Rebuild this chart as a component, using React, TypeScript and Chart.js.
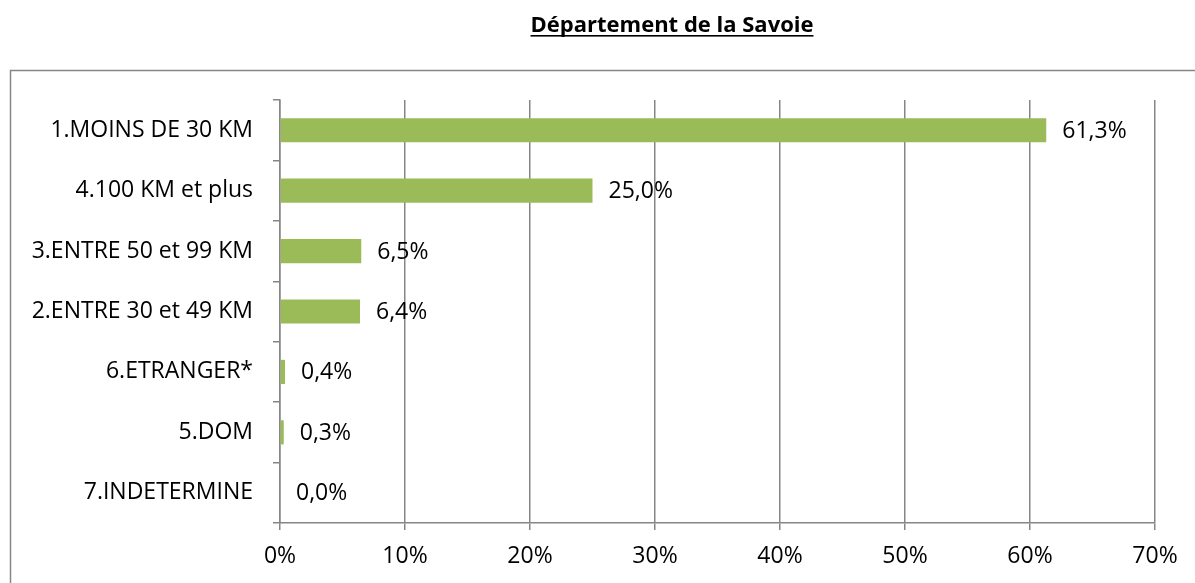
import React, { useEffect, useRef } from "react";
import { Chart, registerables } from "chart.js";

Chart.register(...registerables);

const title = "Département de la Savoie";
const categories = [
  "1.MOINS DE 30 KM",
  "4.100 KM et plus",
  "3.ENTRE 50 et 99 KM",
  "2.ENTRE 30 et 49 KM",
  "6.ETRANGER*",
  "5.DOM",
  "7.INDETERMINE",
];
const values = [61.3, 25.0, 6.5, 6.4, 0.4, 0.3, 0.0];
const valueLabels = ["61,3%", "25,0%", "6,5%", "6,4%", "0,4%", "0,3%", "0,0%"];
const xMin = 0;
const xMax = 70;
const xStep = 10;

const FONT = "'Open Sans', sans-serif";
const FS = 23;
const GRID = "#868686";
const BAR = "#9BBB59";

const framePlugin = {
  id: "frame",
  beforeDraw(chart: any) {
    const ctx = chart.ctx;
    ctx.save();
    ctx.strokeStyle = GRID;
    ctx.lineWidth = 1.5;
    ctx.strokeRect(10.5, 70.5, 1400, 800);
    // title
    ctx.fillStyle = "#000";
    ctx.font = `bold 22px ${FONT}`;
    ctx.textAlign = "center";
    ctx.textBaseline = "alphabetic";
    const cx = 672;
    const by = 32;
    ctx.fillText(title, cx, by);
    const w = ctx.measureText(title).width;
    ctx.fillRect(cx - w / 2, by + 3, w, 1.6);
    ctx.restore();
  },
  afterDatasetsDraw(chart: any) {
    const ctx = chart.ctx;
    const meta = chart.getDatasetMeta(0);
    ctx.save();
    ctx.fillStyle = "#000";
    ctx.font = `${FS}px ${FONT}`;
    ctx.textAlign = "left";
    ctx.textBaseline = "middle";
    meta.data.forEach((el: any, i: number) => {
      ctx.fillText(valueLabels[i], el.x + 16, el.y + 1);
    });
    ctx.restore();
  },
};

export default function App() {
  const ref = useRef<HTMLCanvasElement>(null);
  useEffect(() => {
    const chart = new Chart(ref.current!, {
      type: "bar",
      data: {
        labels: categories,
        datasets: [
          {
            data: values,
            backgroundColor: BAR,
            borderWidth: 0,
            barPercentage: 0.4,
            categoryPercentage: 1,
          },
        ],
      },
      options: {
        indexAxis: "y",
        animation: false,
        responsive: false,
        maintainAspectRatio: false,
        layout: { padding: { left: 10, top: 100, right: 40, bottom: 0 } },
        plugins: {
          legend: { display: false },
          tooltip: { enabled: false },
          title: { display: false },
        },
        scales: {
          x: {
            min: xMin,
            max: xMax,
            ticks: {
              stepSize: xStep,
              callback: (v: any) => `${v}%`,
              color: "#000",
              font: { family: FONT, size: FS },
              padding: 13,
            },
            grid: {
              color: GRID,
              lineWidth: 1.5,
              tickLength: 7,
            },
            border: { color: GRID, width: 1.5 },
            afterFit: (s: any) => {
              s.height = 60;
            },
          },
          y: {
            ticks: {
              color: "#000",
              font: { family: FONT, size: FS },
              padding: 20,
            },
            grid: {
              offset: true,
              drawOnChartArea: false,
              color: GRID,
              lineWidth: 1.5,
              tickLength: 7,
            },
            border: { color: GRID, width: 1.5 },
            afterFit: (s: any) => {
              s.width = 270;
            },
          },
        },
      },
      plugins: [framePlugin],
    });
    return () => chart.destroy();
  }, []);
  return (
    <div style={{ position: "fixed", left: 0, top: 0, width: 1195, height: 583, background: "#fff" }}>
      <canvas ref={ref} width={1195} height={583} style={{ width: 1195, height: 583 }} />
    </div>
  );
}
